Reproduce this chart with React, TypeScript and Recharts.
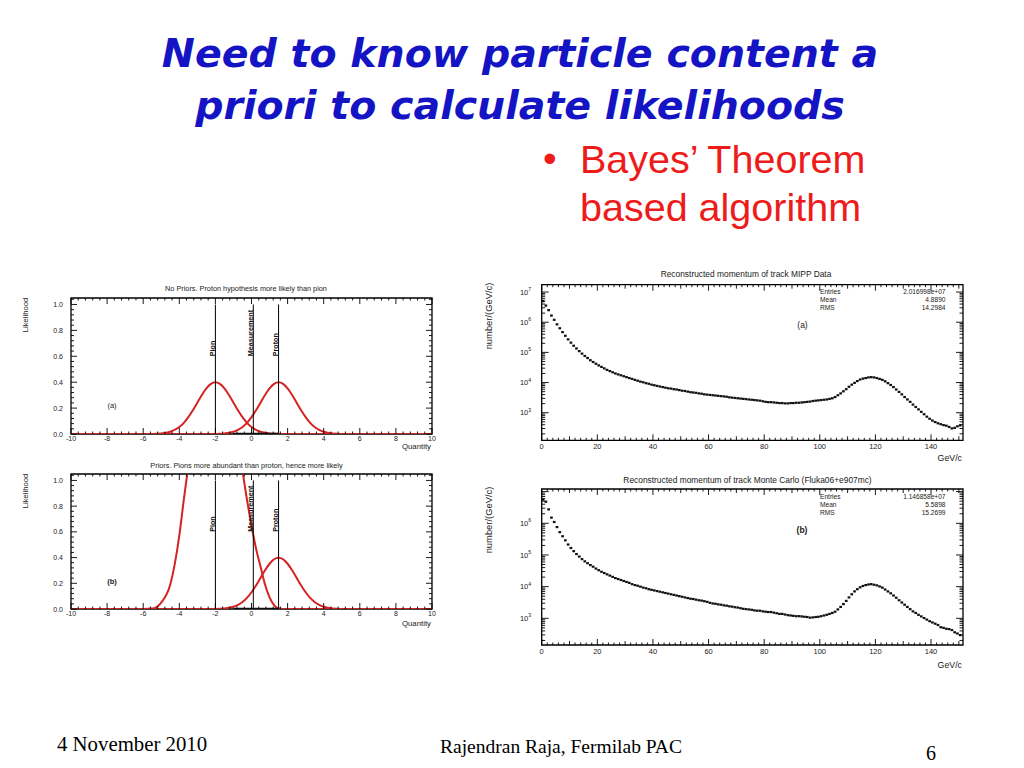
import React from "react";
import {
  LineChart, Line, ScatterChart, Scatter, XAxis, YAxis,
  ReferenceLine, ReferenceArea,
} from "recharts";

// ---------- likelihood panels (left) ----------
const quantity = [
  -10, -9, -8, -7, -6, -5.5, -5, -4.5,
  -4, -3.75, -3.5, -3.25, -3, -2.75, -2.5, -2.25, -2, -1.75, -1.5, -1.25, -1, -0.75, -0.5, -0.25,
  0, 0.25, 0.5, 0.75, 1, 1.25, 1.5, 1.75, 2,
  2.25, 2.5, 2.75, 3, 3.25, 3.5, 3.75, 4,
  4.5, 5, 5.5, 6,
  7, 8, 9, 10,
];

const pionNoPrior = [
  0, 0, 0, 0, 0.0001, 0.0009, 0.0044, 0.0175,
  0.054, 0.086, 0.13, 0.183, 0.242, 0.301, 0.352, 0.387, 0.399, 0.387, 0.352, 0.301, 0.242, 0.183, 0.13, 0.086,
  0.054, 0.032, 0.0175, 0.0091, 0.0044, 0.002, 0.0009, 0.0003, 0.0001,
  0, 0, 0, 0, 0, 0, 0, 0,
  0, 0, 0, 0,
  0, 0, 0, 0,
];

// with priors the pion curve runs far above the frame and is clipped
const pionWithPrior = [
  0, 0, 0, 0, 0, 0.003, 0.05, 0.19,
  0.57, 0.85, 1.12, 1.45, 1.8, 2.1, 2.35, 2.45, 2.5, 2.45, 2.3, 2.0, 1.7, 1.35, 1.08, 0.85,
  0.65, 0.47, 0.33, 0.19, 0.09, 0.03, 0.004, 0, 0,
  0, 0, 0, 0, 0, 0, 0, 0,
  0, 0, 0, 0,
  0, 0, 0, 0,
];

const protonLikelihood = [
  0, 0, 0, 0, 0, 0, 0, 0,
  0, 0, 0, 0, 0, 0, 0.0001, 0.0004, 0.0009, 0.002, 0.0044, 0.0091, 0.0175, 0.032, 0.054, 0.086,
  0.13, 0.183, 0.242, 0.301, 0.352, 0.387, 0.399, 0.387, 0.352,
  0.301, 0.242, 0.183, 0.13, 0.086, 0.054, 0.032, 0.0175,
  0.0044, 0.0009, 0.0001, 0,
  0, 0, 0, 0,
];

// short black curve lying on the axis between -1 and 1.5
const measurementBand = [
  null, null, null, null, null, null, null, null,
  null, null, null, null, null, null, null, null, null, null, null, null, 0, 0, 0, 0,
  0, 0, 0, 0, 0, 0, 0, null, null,
  null, null, null, null, null, null, null, null,
  null, null, null, null,
  null, null, null, null,
];

const hypotheses = [
  { name: "Pion", at: -2 },
  { name: "Measurement", at: 0.1 },
  { name: "Proton", at: 1.5 },
];

const quantityTicks = [-10, -8, -6, -4, -2, 0, 2, 4, 6, 8, 10];
const likelihoodTicks = [0, 0.2, 0.4, 0.6, 0.8, 1.0];

// ---------- momentum histograms (right), 1 GeV/c bins starting at 0 ----------
const mippCounts = [
  5.0e6, 3.55e6, 2.51e6, 1.66e6, 1.2e6, 8.5e5, 6.3e5, 4.7e5, 3.55e5, 2.7e5,
  2.1e5, 1.66e5, 1.35e5, 1.1e5, 9.1e4, 7.6e4, 6.5e4, 5.5e4, 4.8e4, 4.2e4,
  3.7e4, 3.3e4, 2.95e4, 2.63e4, 2.4e4, 2.19e4, 2.0e4, 1.86e4, 1.74e4, 1.62e4,
  1.51e4, 1.41e4, 1.32e4, 1.23e4, 1.15e4, 1.07e4, 1.02e4, 9550, 9120, 8510,
  8130, 7760, 7410, 7080, 6760, 6460, 6310, 6030, 5890, 5620,
  5370, 5250, 5010, 4790, 4680, 4570, 4370, 4270, 4070, 3980,
  3890, 3800, 3720, 3630, 3550, 3470, 3390, 3240, 3160, 3090,
  3020, 2950, 2880, 2820, 2750, 2690, 2630, 2570, 2510, 2400,
  2290, 2240, 2240, 2190, 2140, 2090, 2090, 2040, 2040, 2090,
  2090, 2140, 2140, 2190, 2240, 2290, 2340, 2450, 2510, 2570,
  2630, 2690, 2750, 2880, 3020, 3310, 3800, 4370, 5130, 6030,
  7240, 8510, 9770, 11200, 12600, 13500, 14100, 14800, 15100, 14800,
  14100, 13200, 12300, 11000, 9550, 8320, 7080, 5890, 4900, 4070,
  3310, 2750, 2290, 1860, 1550, 1290, 1070, 891, 741, 631,
  550, 490, 447, 417, 389, 372, 339, 302, 316, 355,
  380,
];

const monteCarloCounts = [
  5.6e6, 4.8e6, 2.75e6, 1.51e6, 1.1e6, 7.6e5, 5.25e5, 3.9e5, 2.9e5, 2.14e5,
  1.66e5, 1.32e5, 1.07e5, 8.9e4, 7.4e4, 6.3e4, 5.5e4, 4.8e4, 4.27e4, 3.72e4,
  3.31e4, 2.95e4, 2.69e4, 2.45e4, 2.24e4, 2.04e4, 1.86e4, 1.74e4, 1.62e4, 1.51e4,
  1.41e4, 1.32e4, 1.2e4, 1.12e4, 1.07e4, 1.0e4, 9330, 8910, 8320, 7940,
  7590, 7240, 6920, 6610, 6310, 6030, 5750, 5500, 5250, 5010,
  4790, 4570, 4370, 4170, 4070, 3890, 3720, 3630, 3470, 3310,
  3090, 2950, 2880, 2750, 2690, 2570, 2510, 2400, 2340, 2240,
  2190, 2090, 2000, 1950, 1910, 1860, 1780, 1740, 1740, 1660,
  1620, 1580, 1580, 1510, 1450, 1380, 1380, 1320, 1260, 1230,
  1200, 1170, 1170, 1150, 1120, 1100, 1050, 1070, 1100, 1120,
  1170, 1230, 1290, 1380, 1480, 1620, 1910, 2290, 2820, 3550,
  4570, 5750, 7080, 8320, 9550, 10500, 11200, 11700, 12000, 11500,
  11000, 10200, 9330, 8130, 7080, 6170, 5250, 4470, 3720, 3160,
  2690, 2290, 1950, 1660, 1480, 1290, 1150, 1020, 912, 813,
  741, 676, 617, 525, 501, 468, 457, 427, 363, 331,
  295,
];

const momentumTicks = [0, 20, 40, 60, 80, 100, 120, 140];

const mippStats = [
  ["Entries", "2.016998e+07"],
  ["Mean", "4.8890"],
  ["RMS", "14.2984"],
];
const monteCarloStats = [
  ["Entries", "1.146858e+07"],
  ["Mean", "5.5898"],
  ["RMS", "15.2699"],
];

// ---------- styling ----------
const ROOT_FONT = "'Liberation Sans', Arial, Helvetica, sans-serif";
const RED = "#d42323";
const INK = "#1a1a1a";
const Q_MAX = 1.05;
const P_MAX = 151.5;

const near = (a: number, b: number) => Math.abs(a - b) < 1e-6;

function steps(lo: number, hi: number, step: number) {
  const out: number[] = [];
  for (let k = 0; lo + k * step <= hi + 1e-9; k++) out.push(+(lo + k * step).toFixed(6));
  return out;
}

function logTicks(lo: number, hi: number) {
  const out: number[] = [];
  for (let e = 1; e <= 8; e++) {
    for (let k = 1; k <= 9; k++) {
      const v = k * Math.pow(10, e);
      if (v >= lo && v <= hi) out.push(v);
    }
  }
  return out;
}

// ROOT-like ticks: drawn inside the frame on both opposite sides
const xTick = (majors: number[], mids: number[], plotTop: number, fmt: (v: number) => string, fs: number, gap: number) =>
  (props: any) => {
    const { x, y, payload } = props;
    const v = payload.value;
    const major = majors.some((m) => near(m, v));
    const len = major ? 6 : mids.some((m) => near(m, v)) ? 4 : 2.5;
    return (
      <g>
        <line x1={x} x2={x} y1={y} y2={y - len} stroke="#000" strokeWidth={0.9} />
        <line x1={x} x2={x} y1={plotTop} y2={plotTop + len} stroke="#000" strokeWidth={0.9} />
        {major && (
          <text x={x} y={y + gap} textAnchor="middle" dominantBaseline="central"
            fontSize={fs} fill={INK} fontFamily={ROOT_FONT}>{fmt(v)}</text>
        )}
      </g>
    );
  };

const linYTick = (majors: number[], plotRight: number) => (props: any) => {
  const { x, y, payload } = props;
  const v = payload.value;
  const major = majors.some((m) => near(m, v));
  const len = major ? 6 : 3;
  return (
    <g>
      <line x1={x} x2={x + len} y1={y} y2={y} stroke="#000" strokeWidth={0.9} />
      <line x1={plotRight} x2={plotRight - len} y1={y} y2={y} stroke="#000" strokeWidth={0.9} />
      {major && (
        <text x={x - 8} y={y} textAnchor="end" dominantBaseline="central"
          fontSize={7} fill={INK} fontFamily={ROOT_FONT}>{v.toFixed(1)}</text>
      )}
    </g>
  );
};

const logYTick = (labelled: number[], plotRight: number) => (props: any) => {
  const { x, y, payload } = props;
  const v = payload.value;
  const e = Math.round(Math.log10(v));
  const major = Math.abs(v - Math.pow(10, e)) < v * 1e-6;
  const len = major ? 7 : 3.5;
  return (
    <g>
      <line x1={x} x2={x + len} y1={y} y2={y} stroke="#000" strokeWidth={0.9} />
      <line x1={plotRight} x2={plotRight - len} y1={y} y2={y} stroke="#000" strokeWidth={0.9} />
      {major && labelled.includes(e) && (
        <text x={x - 10.5} y={y + 2.7} textAnchor="end" fontSize={7.5} fill={INK} fontFamily={ROOT_FONT}>
          10<tspan dy={-3.6} fontSize={5.2}>{e}</tspan>
        </text>
      )}
    </g>
  );
};

function HypLabel(props: any) {
  const vb = props.viewBox || {};
  let x: number, yTop: number, h: number;
  if (vb.x1 !== undefined) {
    x = vb.x1; yTop = Math.min(vb.y1, vb.y2); h = Math.abs(vb.y2 - vb.y1);
  } else {
    x = vb.x; yTop = vb.y; h = vb.height;
  }
  const py = yTop + h * 0.4;
  return (
    <text transform={`translate(${x - 0.8},${py}) rotate(-90)`} fontSize={7.2} fontWeight={700}
      fill="#111" fontFamily={ROOT_FONT}>{props.text}</text>
  );
}

const BinMark = (props: any) => {
  const { cx, cy } = props;
  if (cx == null || cy == null) return <g />;
  return <rect x={cx - 1.35} y={cy - 1.1} width={2.7} height={2.2} fill="#111" />;
};

// ---------- text helper (page coordinates, y is the vertical centre) ----------
function Txt({ x, y, size, anchor = "start", rotate = false, bold = false, color = INK, font = ROOT_FONT, children }: {
  x: number; y: number; size: number; anchor?: "start" | "middle" | "end"; rotate?: boolean;
  bold?: boolean; color?: string; font?: string; children: React.ReactNode;
}) {
  const tx = anchor === "middle" ? "-50%" : anchor === "end" ? "-100%" : "0";
  return (
    <div style={{
      position: "absolute", left: x, top: y, fontSize: size, lineHeight: 1, whiteSpace: "nowrap",
      fontFamily: font, fontWeight: bold ? 700 : 400, color,
      transform: rotate ? "translate(-50%,-50%) rotate(-90deg)" : `translate(${tx},-50%)`,
    }}>{children}</div>
  );
}

// ---------- panels ----------
const LW = 440, LH = 180;
const L_LEFT = 41, L_RIGHT = 8, L_YW = 30, L_XH = 20;

function LikelihoodPanel({ top, marginTop, marginBottom, pion }: {
  top: number; marginTop: number; marginBottom: number; pion: number[];
}) {
  const data = quantity.map((q, i) => ({
    q, pion: pion[i], proton: protonLikelihood[i], band: measurementBand[i],
  }));
  const plotRight = LW - L_RIGHT;
  return (
    <div style={{ position: "absolute", left: 0, top }}>
      <LineChart width={LW} height={LH} data={data}
        margin={{ top: marginTop, right: L_RIGHT, bottom: marginBottom, left: L_LEFT }}>
        <XAxis dataKey="q" type="number" domain={[-10, 10]} allowDataOverflow
          ticks={steps(-10, 10, 0.4)} interval={0} tickSize={0} tickMargin={0}
          tickLine={false} axisLine={false} height={L_XH}
          tick={xTick(quantityTicks, [], marginTop, (v) => String(v), 7, 4.6)} />
        <YAxis type="number" domain={[0, Q_MAX]} allowDataOverflow
          ticks={steps(0, Q_MAX, 0.04)} interval={0} tickSize={0} tickMargin={0}
          tickLine={false} axisLine={false} width={L_YW}
          tick={linYTick(likelihoodTicks, plotRight)} />
        <ReferenceArea x1={-10} x2={10} y1={0} y2={Q_MAX} fill="none" stroke="#000" strokeWidth={1.3} />
        <Line dataKey="pion" type="monotone" stroke={RED} strokeWidth={2} dot={false} activeDot={false} isAnimationActive={false} />
        <Line dataKey="proton" type="monotone" stroke={RED} strokeWidth={2} dot={false} activeDot={false} isAnimationActive={false} />
        <Line dataKey="band" type="linear" stroke="#111" strokeWidth={2.4} dot={false} activeDot={false} isAnimationActive={false} />
        {hypotheses.map((h) => (
          <ReferenceLine key={h.name} segment={[{ x: h.at, y: 0 }, { x: h.at, y: 1 }]}
            stroke="#000" strokeWidth={1} label={<HypLabel text={h.name} />} />
        ))}
      </LineChart>
    </div>
  );
}

const RW = 500;
const R_LEFT = 21.7, R_RIGHT = 17, R_YW = 40, R_XH = 20;

function MomentumPanel({ top, height, marginTop, marginBottom, counts, yDomain, labelled }: {
  top: number; height: number; marginTop: number; marginBottom: number; counts: number[];
  yDomain: [number, number]; labelled: number[];
}) {
  const data = counts.map((n, i) => ({ p: i + 0.5, n }));
  const plotRight = RW - R_RIGHT;
  return (
    <div style={{ position: "absolute", left: 480, top }}>
      <ScatterChart width={RW} height={height}
        margin={{ top: marginTop, right: R_RIGHT, bottom: marginBottom, left: R_LEFT }}>
        <XAxis dataKey="p" type="number" domain={[0, P_MAX]} allowDataOverflow
          ticks={steps(0, P_MAX, 2)} interval={0} tickSize={0} tickMargin={0}
          tickLine={false} axisLine={false} height={R_XH}
          tick={xTick(momentumTicks, steps(0, P_MAX, 10), marginTop, (v) => String(v), 7.5, 6)} />
        <YAxis dataKey="n" type="number" scale="log" domain={yDomain} allowDataOverflow
          ticks={logTicks(yDomain[0], yDomain[1])} interval={0} tickSize={0} tickMargin={0}
          tickLine={false} axisLine={false} width={R_YW}
          tick={logYTick(labelled, plotRight)} />
        <ReferenceArea x1={0} x2={P_MAX} y1={yDomain[0]} y2={yDomain[1]} fill="none" stroke="#000" strokeWidth={1.3} />
        <Scatter data={data} shape={BinMark} isAnimationActive={false} />
      </ScatterChart>
    </div>
  );
}

function Stats({ rows, y }: { rows: string[][]; y: number }) {
  return (
    <>
      {rows.map((r, i) => (
        <React.Fragment key={r[0]}>
          <Txt x={820} y={y + i * 8} size={6.6}>{r[0]}</Txt>
          <Txt x={945.5} y={y + i * 8} size={6.6} anchor="end">{r[1]}</Txt>
        </React.Fragment>
      ))}
    </>
  );
}

export default function App() {
  return (
    <div style={{ position: "absolute", left: 0, top: 0, width: 1024, height: 768, background: "#fff", overflow: "hidden" }}>
      {/* slide title */}
      <div style={{
        position: "absolute", left: 20, top: 27, width: 1000, textAlign: "center",
        fontFamily: "'DejaVu Sans', sans-serif", fontWeight: 700, fontStyle: "italic",
        fontSize: 39.5, lineHeight: "52px", color: "#1414c4", whiteSpace: "nowrap",
      }}>
        Need to know particle content a<br />priori to calculate likelihoods
      </div>

      {/* bullet */}
      <div style={{ position: "absolute", left: 543, top: 135, fontFamily: "'Liberation Sans', Arial, sans-serif", fontSize: 39, lineHeight: "48px", color: "#ee1b1b" }}>•</div>
      <div style={{
        position: "absolute", left: 580, top: 134.5, fontFamily: "'Liberation Sans', Arial, sans-serif",
        fontSize: 39.5, lineHeight: "48px", color: "#ee1b1b", whiteSpace: "nowrap",
      }}>
        Bayes’ Theorem<br />based algorithm
      </div>

      {/* likelihood panels */}
      <Txt x={246} y={289} size={7.3} anchor="middle">No Priors. Proton hypothesis more likely than pion</Txt>
      <LikelihoodPanel top={280} marginTop={18} marginBottom={6} pion={pionNoPrior} />
      <Txt x={26} y={314.5} size={7.7} rotate>Likelihood</Txt>
      <Txt x={431} y={447.3} size={7.8} anchor="end">Quantity</Txt>
      <Txt x={112} y={406} size={7.5} anchor="middle">(a)</Txt>

      <Txt x={246.5} y={465.5} size={7.3} anchor="middle">Priors. Pions more abundant than proton, hence more likely</Txt>
      <LikelihoodPanel top={460} marginTop={14} marginBottom={11} pion={pionWithPrior} />
      <Txt x={26} y={490.5} size={7.7} rotate>Likelihood</Txt>
      <Txt x={431} y={623.7} size={7.8} anchor="end">Quantity</Txt>
      <Txt x={112} y={582} size={7.5} anchor="middle" bold>(b)</Txt>

      {/* momentum panels */}
      <Txt x={746} y={274} size={8.4} anchor="middle">Reconstructed momentum of track MIPP Data</Txt>
      <MomentumPanel top={262} height={210} marginTop={22.7} marginBottom={11.7}
        counts={mippCounts} yDomain={[122, 1.75e7]} labelled={[3, 4, 5, 6, 7]} />
      <Txt x={489} y={316} size={9.4} rotate>number/(GeV/c)</Txt>
      <Txt x={962} y={458} size={8.8} anchor="end">GeV/c</Txt>
      <Stats rows={mippStats} y={292} />
      <Txt x={802.5} y={324.5} size={8.5} anchor="middle">(a)</Txt>

      <Txt x={747.5} y={480} size={8.4} anchor="middle">Reconstructed momentum of track Monte Carlo (Fluka06+e907mc)</Txt>
      <MomentumPanel top={470} height={200} marginTop={19} marginBottom={5}
        counts={monteCarloCounts} yDomain={[144, 1.21e7]} labelled={[3, 4, 5, 6]} />
      <Txt x={489} y={519.5} size={9.4} rotate>number/(GeV/c)</Txt>
      <Txt x={962} y={664.5} size={8.8} anchor="end">GeV/c</Txt>
      <Stats rows={monteCarloStats} y={497} />
      <Txt x={802} y={530} size={8.5} anchor="middle" bold>(b)</Txt>

      {/* footer */}
      <div style={{ position: "absolute", left: 57, top: 734, fontFamily: "'Liberation Serif', 'Times New Roman', serif", fontSize: 20.8, lineHeight: "20px", whiteSpace: "nowrap" }}>4 November 2010</div>
      <div style={{ position: "absolute", left: 440, top: 737, fontFamily: "'Liberation Serif', 'Times New Roman', serif", fontSize: 19.5, lineHeight: "20px", whiteSpace: "nowrap" }}>Rajendran Raja, Fermilab PAC</div>
      <div style={{ position: "absolute", left: 926, top: 743, fontFamily: "'Liberation Serif', 'Times New Roman', serif", fontSize: 20, lineHeight: "20px" }}>6</div>
    </div>
  );
}
